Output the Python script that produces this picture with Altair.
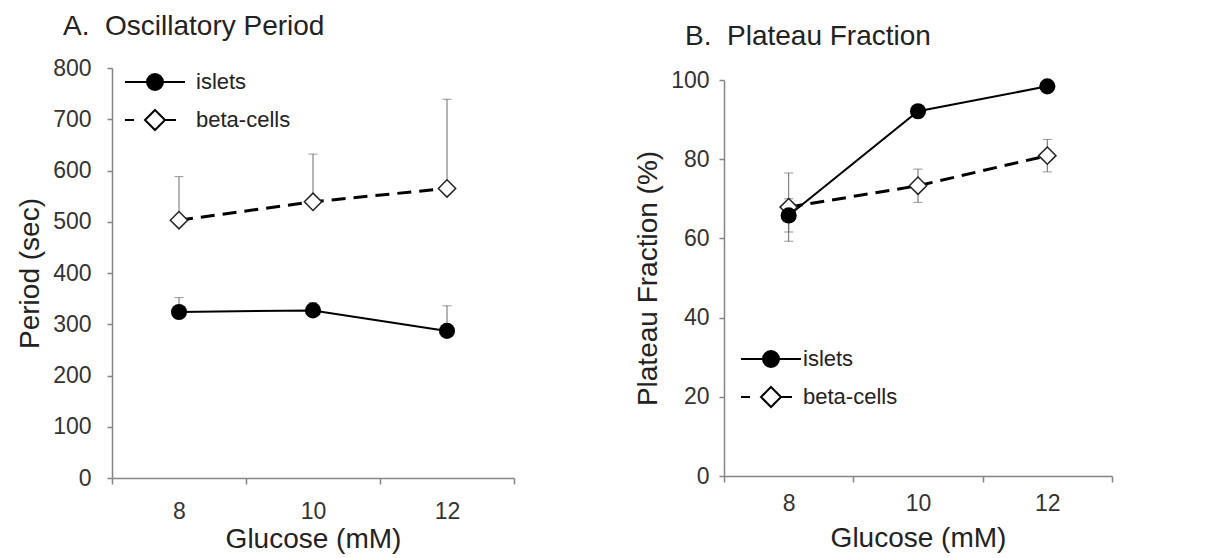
import altair as alt
import pandas as pd

glucose = ["8", "10", "12"]
series = ["islets", "beta-cells"]

period_islets = [324, 327, 287]
period_islets_err = [28, 15, 49]
period_beta = [503, 539, 565]
period_beta_err = [85, 93, 174]

plateau_islets = [65.8, 92.1, 98.4]
plateau_islets_err = [4.2, 1.5, 1.0]
plateau_beta = [67.9, 73.3, 80.9]
plateau_beta_err = [8.6, 4.2, 4.1]

FONT = "Liberation Sans"
AXIS_GREY = "#858585"
ERR_GREY = "#6a6a6a"


def ring(r):
    return f"M{-r},0A{r},{r},0,1,1,{r},0A{r},{r},0,1,1,{-r},0Z"


# legend glyphs (line + marker); a filled disc is drawn as concentric rings
ISLET_PATH = "M-3,0L3,0" + "".join(ring(r) for r in (0.8, 0.6, 0.4, 0.2, 0.05))
BETA_PATH = "M-3,0L-2.1,0M1,0L2.1,0M0,-1L1,0L0,1L-1,0Z"


def make_frame(isl, isl_err, bet, bet_err, both):
    rows = []
    for g, v, e in zip(glucose, isl, isl_err):
        rows.append(dict(g=g, s="islets", v=v, hi=v + e, lo=(v - e) if both else v))
    for g, v, e in zip(glucose, bet, bet_err):
        rows.append(dict(g=g, s="beta-cells", v=v, hi=v + e, lo=(v - e) if both else v))
    return pd.DataFrame(rows)


def panel(df, ttl, ytitle, ymax, ystep, width, height,
          ylabpad, xlabpad, xtitlepad, legx, legy, legoff, both):
    x = alt.X("g:N", sort=glucose,
              scale=alt.Scale(type="band", paddingInner=0, paddingOuter=0),
              axis=alt.Axis(title="Glucose (mM)", labelAngle=0, tickBand="extent",
                            tickSize=6, labelPadding=xlabpad, titlePadding=xtitlepad,
                            domainColor=AXIS_GREY, tickColor=AXIS_GREY,
                            domainWidth=1.5, tickWidth=1.5,
                            labelFontSize=23, titleFontSize=28, grid=False))
    yscale = alt.Scale(domain=[0, ymax], nice=False, zero=True)
    yaxis = alt.Axis(title=ytitle, values=list(range(0, ymax + 1, ystep)),
                     tickSize=5, labelPadding=ylabpad, titlePadding=8,
                     domainColor=AXIS_GREY, tickColor=AXIS_GREY,
                     domainWidth=1.5, tickWidth=1.5,
                     labelFontSize=23, titleFontSize=28, grid=False)

    def Y(field):
        return alt.Y(field, type="quantitative", scale=yscale, axis=yaxis, title=ytitle)

    base = alt.Chart(df)
    err = base.mark_rule(color=ERR_GREY, strokeWidth=1).encode(x=x, y=Y("lo"), y2="hi")
    cap_hi = base.mark_tick(color=ERR_GREY, size=9, thickness=1).encode(x=x, y=Y("hi"))
    layers = [err, cap_hi]
    if both:
        layers.append(base.mark_tick(color=ERR_GREY, size=9, thickness=1).encode(x=x, y=Y("lo")))

    line_i = base.transform_filter(alt.datum.s == "islets").mark_line(
        color="black", strokeWidth=2).encode(x=x, y=Y("v"))
    line_b = base.transform_filter(alt.datum.s == "beta-cells").mark_line(
        color="black", strokeWidth=3, strokeDash=[14, 8]).encode(x=x, y=Y("v"))
    pt_b = base.transform_filter(alt.datum.s == "beta-cells").mark_point(
        shape="diamond", filled=True, fill="white", stroke="#222", strokeWidth=1.5,
        size=300, opacity=1).encode(x=x, y=Y("v"))
    pt_i = base.transform_filter(alt.datum.s == "islets").mark_point(
        shape="circle", filled=True, color="black", size=260, opacity=1).encode(x=x, y=Y("v"))

    leg = alt.Legend(title=None, orient="none", legendX=legx, legendY=legy,
                     symbolSize=400, symbolStrokeColor="black", symbolStrokeWidth=2,
                     symbolOpacity=1, symbolFillColor="white", labelFont=FONT, labelFontSize=22,
                     labelColor="#222", labelOffset=legoff, rowPadding=12, padding=0)
    legend_layer = base.mark_point(filled=False, opacity=0, color="black", strokeWidth=2).encode(
        x=x, y=Y("v"),
        shape=alt.Shape("s:N", scale=alt.Scale(domain=series, range=[ISLET_PATH, BETA_PATH]),
                        legend=leg),
    )

    return alt.layer(*layers, line_b, line_i, pt_b, pt_i, legend_layer).properties(
        width=width, height=height, title=ttl)


def spacer(width, height):
    # empty strip used only to set the vertical offset of a panel
    return alt.Chart(pd.DataFrame({"s": [0]})).mark_point(opacity=0, size=1).encode(
        x=alt.value(0), y=alt.value(0)).properties(width=width, height=height)


titleA = alt.TitleParams(text="A.\u00a0 Oscillatory Period", anchor="start", frame="group",
                         dx=-49, fontSize=28, font=FONT, fontWeight="normal", color="#222",
                         offset=16)
titleB = alt.TitleParams(text="B.\u00a0 Plateau Fraction", anchor="start", frame="group",
                         dx=-39, fontSize=28, font=FONT, fontWeight="normal", color="#222",
                         offset=18)

dfA = make_frame(period_islets, period_islets_err, period_beta, period_beta_err, False)
dfB = make_frame(plateau_islets, plateau_islets_err, plateau_beta, plateau_beta_err, True)

pA = panel(dfA, titleA, "Period (sec)", 800, 100, 402, 410,
           16, 16, 2, 32, 3, 30, False)
pB = panel(dfB, titleB, "Plateau Fraction (%)", 100, 20, 388, 396,
           10, 10, 9, 36, 268, 21, True)

colA = alt.vconcat(spacer(402, 1), pA, spacing=0).resolve_legend(shape="independent")
colB = alt.vconcat(spacer(388, 11), pB, spacing=0).resolve_legend(shape="independent")

chart = alt.hconcat(colA, colB, spacing=119).resolve_scale(
    y="independent", shape="independent", x="independent"
).resolve_legend(shape="independent").configure(
    font=FONT, padding={"left": 16, "top": 11, "right": 5, "bottom": 5}
).configure_view(stroke=None).configure_axis(
    labelFont=FONT, titleFont=FONT, titleFontWeight="normal", labelColor="#333",
    titleColor="#222"
)

chart.save("out.html", embed_options={"renderer": "svg", "actions": False})
